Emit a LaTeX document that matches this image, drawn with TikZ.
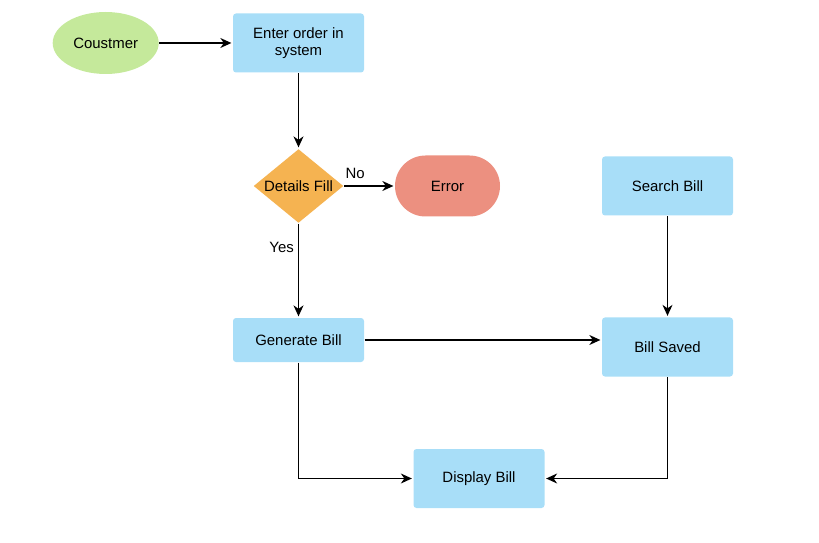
\documentclass[tikz,border=0pt]{standalone}
\usepackage{fontspec}
\setmainfont{Liberation Sans}
\usepackage{tikz}
\usetikzlibrary{arrows.meta,shapes.geometric,shapes.misc,positioning}

\definecolor{custgreen}{RGB}{197,233,155}
\definecolor{boxblue}{RGB}{168,222,248}
\definecolor{decorange}{RGB}{245,179,81}
\definecolor{errred}{RGB}{236,144,128}

\begin{document}
\begin{tikzpicture}[x=1bp,y=-1bp,->,>={Stealth[length=11bp,width=10bp,inset=3.5bp]},shorten >=1pt,line width=1.3pt,
  font=\fontsize{15}{17.5}\selectfont,
  start node/.style={ellipse,fill=custgreen,draw=none,minimum width=106bp,minimum height=62bp,inner sep=0pt},
  process node/.style={rectangle,rounded corners=3pt,fill=boxblue,draw=none,minimum width=131bp,minimum height=59bp,align=center,inner sep=0pt},
  decision node/.style={diamond,fill=decorange,draw=none,minimum width=90bp,minimum height=74bp,inner sep=0pt},
  stop node/.style={rounded rectangle,fill=errred,draw=none,minimum width=105bp,minimum height=61bp,inner sep=0pt}]

  \useasboundingbox (0,0) rectangle (819,543);

  \node[process node] (enter) at (298.5,43) {Enter order in\\system};
  \node[start node] (cust) [left=73bp of enter] {Coustmer};
  \node[decision node,label=center:{Details Fill}] (details) at (298.5,186) {};
  \node[stop node] (error) at (447.5,186) {Error};
  \node[process node] (search) at (667.5,186) {Search Bill};
  \node[process node,minimum height=44bp] (gen) at (298.5,340) {Generate Bill};
  \node[process node] (saved) at (667.5,347) {Bill Saved};
  \node[process node] (display) at (479,478.5) {Display Bill};

  \draw (cust) -- (enter);
  \draw (enter) -- (details);
  \draw (details) -- node[above,pos=0.22,inner sep=7pt] {No} (error);
  \draw (details) -- node[left,pos=0.25,inner sep=4pt] {Yes} (gen);
  \draw (gen.east) -- (gen.east -| saved.west);
  \draw (search) -- (saved);
  \draw (gen) |- (display);
  \draw (saved) |- (display);

\end{tikzpicture}
\end{document}
